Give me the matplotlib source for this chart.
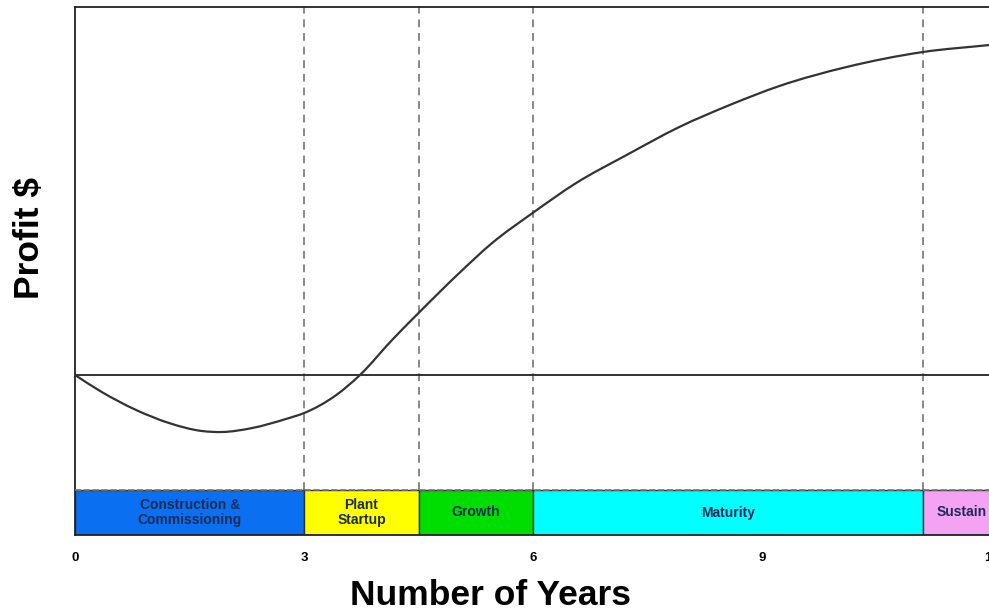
import matplotlib.pyplot as plt
from matplotlib.patches import Rectangle, PathPatch
from matplotlib.path import Path

plt.rcParams['font.family'] = ['Liberation Sans', 'DejaVu Sans']

# profit curve over the plant's life (arbitrary units)
years = [0.0, 0.35, 0.80, 1.23, 1.66, 1.93, 2.32, 2.76, 3.0, 3.42, 3.73, 4.15, 4.51,
         5.03, 5.46, 5.99, 6.56, 7.22, 7.91, 8.57, 9.22, 10.1, 11.1, 11.97]
profit = [0.0, -1.7, -3.5, -4.8, -5.6, -5.7, -5.3, -4.4, -3.8, -2.0, 0.0, 3.5, 6.3,
          10.2, 13.2, 16.2, 19.2, 22.0, 24.8, 27.0, 28.9, 30.8, 32.3, 33.0]

phase_names = ['Construction &\nCommissioning', 'Plant\nStartup', 'Growth', 'Maturity', 'Sustain']
phase_start = [0, 3, 4.5, 6, 11.1]
phase_end = [3, 4.5, 6, 11.1, 12.1]
phase_colors = ['#0a6ff0', '#ffff00', '#00dd00', '#00ffff', '#f4a2f4']

x_ticks = [0, 3, 6, 9, 12]


def smooth_path(xs, ys):
    # cubic Hermite pieces (as Bezier segments) passing through every point
    n = len(xs)
    slopes = []
    for i in range(n):
        if i == 0:
            slopes.append((ys[1] - ys[0]) / (xs[1] - xs[0]))
        elif i == n - 1:
            slopes.append((ys[-1] - ys[-2]) / (xs[-1] - xs[-2]))
        else:
            h0 = xs[i] - xs[i - 1]
            h1 = xs[i + 1] - xs[i]
            d0 = (ys[i] - ys[i - 1]) / h0
            d1 = (ys[i + 1] - ys[i]) / h1
            slopes.append((d0 * h1 + d1 * h0) / (h0 + h1))
    verts = [(xs[0], ys[0])]
    codes = [Path.MOVETO]
    for i in range(n - 1):
        h = xs[i + 1] - xs[i]
        verts += [(xs[i] + h / 3, ys[i] + slopes[i] * h / 3),
                  (xs[i + 1] - h / 3, ys[i + 1] - slopes[i + 1] * h / 3),
                  (xs[i + 1], ys[i + 1])]
        codes += [Path.CURVE4] * 3
    return Path(verts, codes)


fig = plt.figure(figsize=(9.89, 6.16), dpi=100)
ax = fig.add_axes([75 / 989, 81 / 616, 955 / 989, 528 / 616])

ax.set_xlim(0, 12.5)
ax.set_ylim(-16.0, 36.8)

band_top = -11.5
band_bottom = -16.0

# phase band along the bottom
for start, end, name, color in zip(phase_start, phase_end, phase_names, phase_colors):
    ax.add_patch(Rectangle((start, band_bottom), end - start, band_top - band_bottom,
                           facecolor=color, edgecolor='#333333', linewidth=1.0, zorder=2))
    ax.text((start + end) / 2, (band_top + band_bottom) / 2, name, ha='center', va='center',
            fontsize=10, fontweight='bold', color='#1c2c55', linespacing=1.05, zorder=3)
ax.plot([0, 12.5], [band_top, band_top], color='#777777', linestyle='--', linewidth=1.2, zorder=3)

# phase boundaries
for xb in phase_start[1:]:
    ax.plot([xb, xb], [band_top, 36.8], color='#888888', linestyle='--', linewidth=1.4,
            dashes=(4, 3), zorder=1)

ax.axhline(0, color='#222222', linewidth=1.3, zorder=2)
ax.add_patch(PathPatch(smooth_path(years, profit), facecolor='none', edgecolor='#333333',
                       linewidth=1.6, zorder=4))

for side in ['left', 'top', 'bottom']:
    ax.spines[side].set_linewidth(1.3)
    ax.spines[side].set_color('#222222')
ax.spines['right'].set_visible(False)

ax.set_xticks(x_ticks)
ax.set_xticklabels([str(t) for t in x_ticks], fontsize=9.5, fontweight='bold')
ax.tick_params(axis='x', length=0, pad=12)
ax.set_yticks([])

ax.set_xlabel('Number of Years', fontsize=25.5, fontweight='bold')
ax.set_ylabel('Profit $', fontsize=25.5, fontweight='bold')
ax.xaxis.set_label_coords((490 - 75) / 955, -(579 - 535) / 528)
ax.yaxis.set_label_coords(-(75 - 46) / 955, (535 - 238) / 528)

fig.savefig('out.png', dpi=100)
